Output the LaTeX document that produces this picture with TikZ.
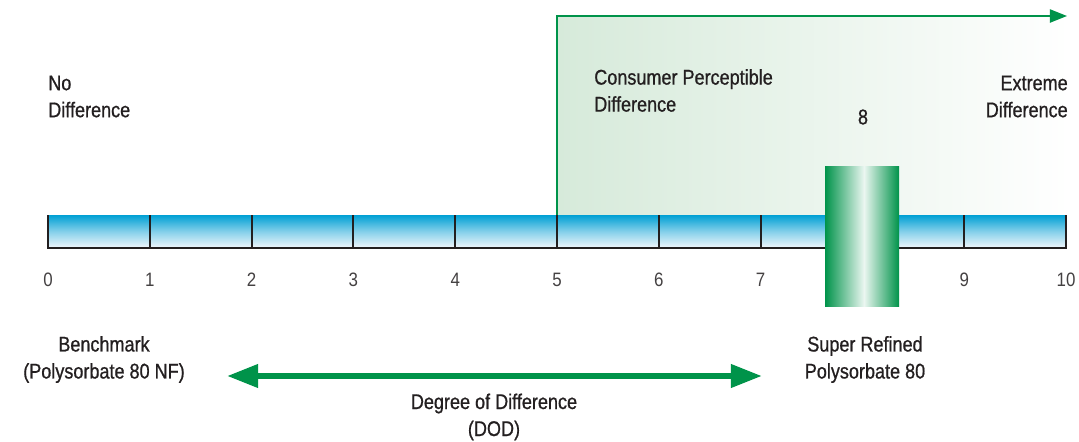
\documentclass[tikz,border=0pt]{standalone}
\usepackage{fontspec}
\setmainfont{Liberation Sans}[FakeStretch=0.85, FakeBold=0.8]
\newfontfamily\numfont{Liberation Sans}[FakeStretch=0.87]
\usetikzlibrary{arrows.meta}
\definecolor{dodgreen}{HTML}{00934A}
\definecolor{palegreen}{HTML}{D6EADA}
\definecolor{scaleblue}{HTML}{00A0D4}
\definecolor{paleblue}{HTML}{F2F7FC}
\definecolor{ink}{HTML}{231F20}
\begin{document}
\begin{tikzpicture}[x=0.025cm, y=-0.025cm,
    every node/.style={font=\fontsize{15.1}{19.2}\selectfont, text=ink, inner sep=0pt},
    tick/.style={draw=ink, line width=1.3pt},
    num/.style={font=\numfont\fontsize{13.8}{17}\selectfont, text=ink!85}]
  \useasboundingbox (0,0) rectangle (1079,441);
  % perceptible zone behind the scale
  \shade[left color=palegreen, right color=white] (557,16) rectangle (1070,215);
  \coordinate (zone base) at (557,215);
  \coordinate (zone top) at (557,16);
  \coordinate (zone end) at (1067,16);
  \draw[dodgreen, line width=1.4pt, -{Triangle[length=0.43cm, width=0.33cm]}]
    (zone base) -- (zone top) -- (zone end);

  % scale 0..10
  \shade[top color=scaleblue, bottom color=paleblue, middle color=scaleblue!45!paleblue]
    (48,215) rectangle (1066,248);
  \draw[ink, line width=1.4pt] (48,215) -- (48,248) -- (1066,248) -- (1066,215);
  \foreach \i in {1,...,9}
    \draw[tick] ({48+101.8*\i},215) -- ++(0,33);
  \foreach \i in {0,...,7,9,10}
    \node[num] (n\i) at ({48+101.8*\i},280) {\i};

  % marker at 8
  \shade[left color=dodgreen, right color=white!92!dodgreen] (825,166) rectangle (864,306);
  \shade[left color=white!92!dodgreen, right color=dodgreen] (864,166) rectangle (899,306);
  \node (eight) at (863,117) {8};

  % labels
  \node[anchor=west, align=left] (nodiff) at (48,96.5) {No\\Difference};
  \node[anchor=west, align=left] (cpd) at (594,90.5) {Consumer Perceptible\\Difference};
  \node[anchor=east, align=right] (extreme) at (1068,96.5) {Extreme\\Difference};
  \node[align=center] (bench) at (104,359.5) {Benchmark\\(Polysorbate 80 NF)};
  \node[align=center] (super) at (865,359.5) {Super Refined\\Polysorbate 80};
  \node[align=center] (dod) at (494,417) {Degree of Difference\\(DOD)};

  % degree of difference arrow
  \coordinate (dod left) at (227,376);
  \coordinate (dod right) at (762,376);
  \draw[dodgreen, line width=4.3pt,
        {Triangle[length=0.78cm, width=0.56cm]}-{Triangle[length=0.78cm, width=0.56cm]}]
    (dod left) -- (dod right);
\end{tikzpicture}
\end{document}
